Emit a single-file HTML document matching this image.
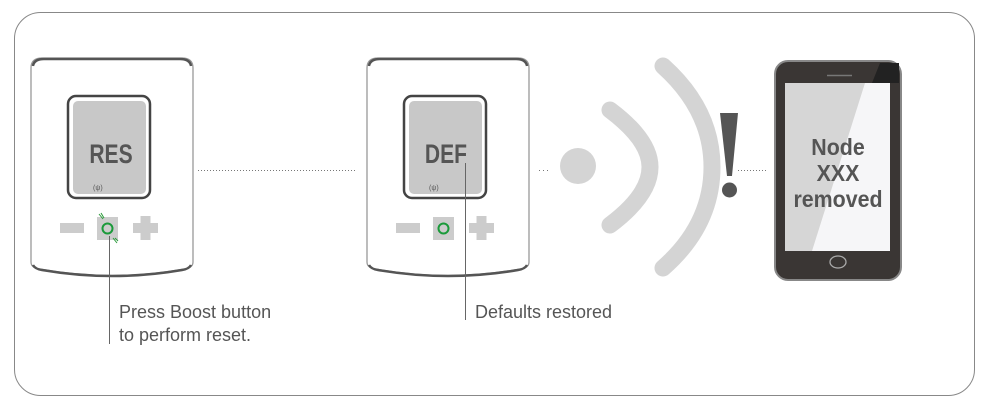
<!DOCTYPE html>
<html><head><meta charset="utf-8"><style>
html,body{margin:0;padding:0;background:#fff}
svg{display:block}
text{font-family:"Liberation Sans",sans-serif}
</style></head><body>
<svg width="982" height="402" viewBox="0 0 982 402" xmlns="http://www.w3.org/2000/svg">
<defs>
<g id="dev">
  <path d="M31,68 Q31,58 42,58 L182,58 Q193,58 193,68 L193,262 Q193,268 184,269 Q112,282 40,269 Q31,268 31,262 Z" fill="#fff" stroke="#999" stroke-width="1.3"/>
  <path d="M33,66 Q34,59 44,59 L180,59 Q190,59 191,66" fill="none" stroke="#555" stroke-width="2.5"/>
  <path d="M33,265 Q35,269 42,270 Q112,282 182,270 Q189,269 191,265" fill="none" stroke="#555" stroke-width="2.5"/>
  <rect x="68" y="96" width="82" height="102" rx="8" fill="#fff" stroke="#444" stroke-width="2.5"/>
  <rect x="73" y="101" width="73" height="93" rx="5" fill="#c8c8c8"/>
  <text x="93" y="190" font-size="7" fill="#555">(ψ)</text>
  <rect x="60" y="223" width="24" height="10" fill="#ccc"/>
  <rect x="97" y="217" width="21" height="23" fill="#ccc"/>
  <circle cx="107.5" cy="228.5" r="5" fill="none" stroke="#1a9a3a" stroke-width="2"/>
  <rect x="133" y="223" width="25" height="10" fill="#ccc"/>
  <rect x="140.5" y="216" width="10" height="24" fill="#ccc"/>
</g>
</defs>
<rect x="14.5" y="12.5" width="960" height="383" rx="26" fill="#fff" stroke="#888" stroke-width="1"/>
<use href="#dev"/>
<text x="111" y="163" font-size="27" font-weight="bold" fill="#555" text-anchor="middle" transform="translate(111 0) scale(0.78 1) translate(-111 0)">RES</text>
<g stroke="#2a9a3a" stroke-width="1"><line x1="99" y1="214" x2="103" y2="219"/><line x1="113" y1="238" x2="117" y2="243"/><line x1="101" y1="213" x2="104" y2="218"/><line x1="115" y1="238" x2="118" y2="241"/></g>
<line x1="109.5" y1="236" x2="109.5" y2="344" stroke="#666" stroke-width="1"/>
<text x="119" y="318" font-size="18" fill="#555">Press Boost button</text>
<text x="119" y="341" font-size="18" fill="#555">to perform reset.</text>
<line x1="198" y1="170.5" x2="357" y2="170.5" stroke="#777" stroke-width="1" stroke-dasharray="1,2"/>
<g transform="translate(336 0)"><use href="#dev"/></g>
<text x="446" y="163" font-size="27" font-weight="bold" fill="#555" text-anchor="middle" transform="translate(446 0) scale(0.78 1) translate(-446 0)">DEF</text>
<line x1="465.5" y1="163" x2="465.5" y2="320" stroke="#666" stroke-width="1"/>
<text x="475" y="318" font-size="18" fill="#555">Defaults restored</text>
<line x1="539" y1="170.5" x2="549" y2="170.5" stroke="#777" stroke-width="1" stroke-dasharray="1,3"/>
<circle cx="578" cy="166" r="18" fill="#d4d4d4"/>
<path d="M610,110 Q650,140 650,167 Q650,195 610,225" fill="none" stroke="#d4d4d4" stroke-width="17" stroke-linecap="round"/>
<path d="M663,66 Q712,110 712,167 Q712,225 663,268" fill="none" stroke="#d4d4d4" stroke-width="17" stroke-linecap="round"/>
<path d="M720,113 L738,113 L732,176 L727,176 Z" fill="#555"/>
<circle cx="729.5" cy="190" r="7.5" fill="#555"/>
<line x1="738" y1="170.5" x2="766" y2="170.5" stroke="#777" stroke-width="1" stroke-dasharray="1,2"/>
<rect x="775" y="61" width="126" height="219" rx="13" fill="#3a3634" stroke="#888" stroke-width="2"/>
<rect x="785" y="83" width="105" height="168" fill="#d6d6d6"/>
<path d="M865,83 L890,83 L890,251 L812,251 Z" fill="#f6f6f8"/>
<path d="M880,63 L899,63 L899,83 L872,83 Z" fill="#222"/>
<line x1="827" y1="75.5" x2="852" y2="75.5" stroke="#777" stroke-width="1.5"/>
<ellipse cx="838" cy="262" rx="8" ry="6" fill="none" stroke="#aaa" stroke-width="1.3"/>
<g font-size="23" font-weight="bold" fill="#555" text-anchor="middle" transform="translate(838 0) scale(0.93 1) translate(-838 0)">
<text x="838" y="155">Node</text>
<text x="838" y="181">XXX</text>
<text x="838" y="207">removed</text>
</g>
</svg>
</body></html>
